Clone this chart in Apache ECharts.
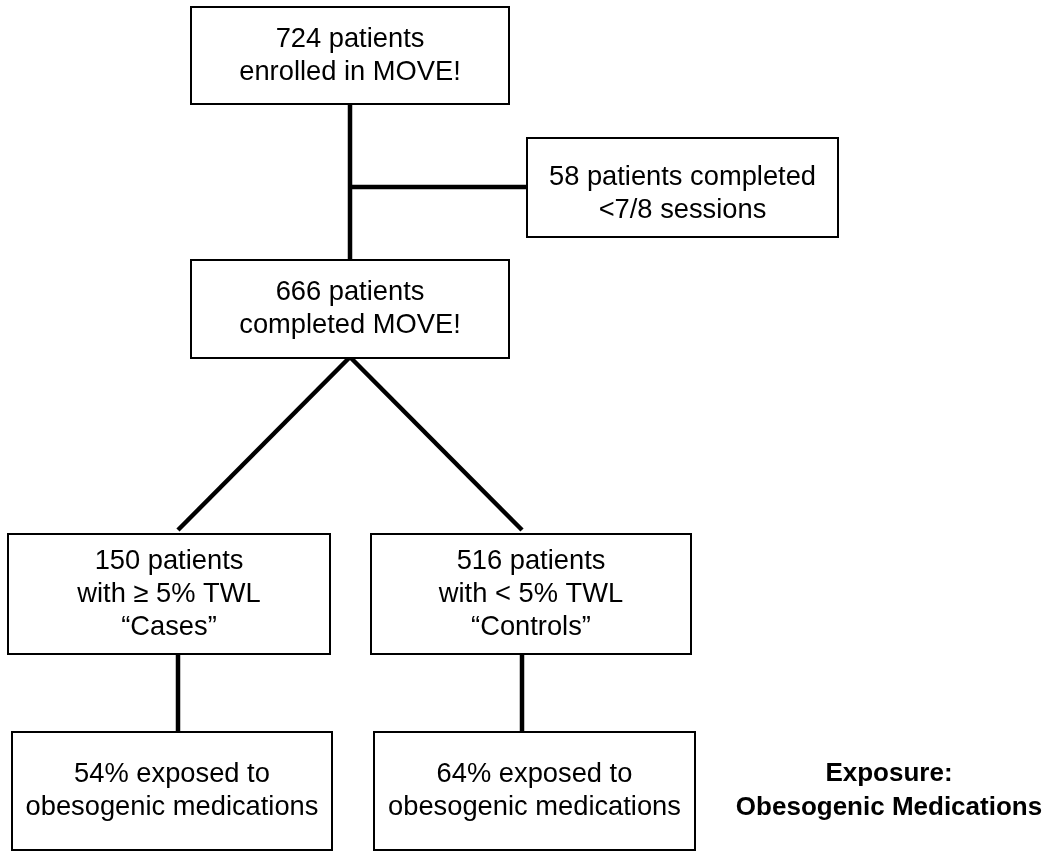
<!DOCTYPE html>
<html><head><meta charset="utf-8">
<script src="https://cdn.jsdelivr.net/npm/echarts@6/dist/echarts.min.js"></script>
<style>html,body{margin:0;padding:0;background:#fff}#c{width:1056px;height:852px}</style>
</head><body><div id="c"></div>
<script>
// ---- content ----
const boxIds = ['enrolled', 'excluded', 'completed', 'cases', 'controls', 'casesExp', 'controlsExp'];
const boxLabels = [
  '724 patients\nenrolled in MOVE!',
  '58 patients completed\n<7/8 sessions',
  '666 patients\ncompleted MOVE!',
  '150 patients\nwith \u2265 5% TWL\n\u201CCases\u201D',
  '516 patients\nwith < 5% TWL\n\u201CControls\u201D',
  '54% exposed to\nobesogenic medications',
  '64% exposed to\nobesogenic medications'
];
const sideNote = 'Exposure:\nObesogenic Medications';

// ---- layout (in the hidden axes' pixel-like units) ----
const boxLayout = {
  enrolled:    [191, 7, 509, 104],
  excluded:    [527, 138, 838, 237],
  completed:   [191, 260, 509, 358],
  cases:       [8, 534, 330, 654],
  controls:    [371, 534, 691, 654],
  casesExp:    [12, 732, 332, 850],
  controlsExp: [374, 732, 695, 850]
};
const textShift = { excluded: 6 };
const connectorLayout = [
  [350, 104, 350, 260],
  [350, 187, 527, 187],
  [350, 357, 178, 530],
  [350, 357, 522, 530],
  [178, 654, 178, 732],
  [522, 654, 522, 732]
];
const sideNoteAt = [889, 791];

const FONT = '"Liberation Sans", Arial, Helvetica, sans-serif';
const chart = echarts.init(document.getElementById('c'));

chart.setOption({
  animation: false,
  backgroundColor: '#fff',
  grid: { left: 0, right: 0, top: 0, bottom: 0 },
  xAxis: { type: 'value', min: 0, max: 1056, show: false },
  yAxis: { type: 'value', min: 0, max: 852, inverse: true, show: false },
  series: [
    {
      type: 'custom',
      coordinateSystem: 'cartesian2d',
      z: 1,
      data: connectorLayout,
      renderItem: function (params, api) {
        const a = api.coord([api.value(0), api.value(1)]);
        const b = api.coord([api.value(2), api.value(3)]);
        return {
          type: 'line',
          shape: { x1: a[0], y1: a[1], x2: b[0], y2: b[1] },
          style: { stroke: '#000', lineWidth: 4.5 }
        };
      }
    },
    {
      type: 'custom',
      coordinateSystem: 'cartesian2d',
      z: 2,
      data: boxIds.map(function (id, i) { return boxLayout[id].concat([i]); }),
      renderItem: function (params, api) {
        const p0 = api.coord([api.value(0), api.value(1)]);
        const p1 = api.coord([api.value(2), api.value(3)]);
        const idx = api.value(4);
        const id = boxIds[idx];
        return {
          type: 'rect',
          shape: { x: p0[0], y: p0[1], width: p1[0] - p0[0], height: p1[1] - p0[1] },
          style: { fill: '#fff', stroke: '#000', lineWidth: 2 },
          textContent: {
            style: {
              text: boxLabels[idx],
              fill: '#000',
              fontSize: 27.3,
              fontFamily: FONT,
              lineHeight: 33,
              align: 'center'
            }
          },
          textConfig: { position: 'inside', offset: [0, textShift[id] || 0] }
        };
      }
    },
    {
      type: 'custom',
      coordinateSystem: 'cartesian2d',
      z: 3,
      data: [sideNoteAt],
      renderItem: function (params, api) {
        const p = api.coord([api.value(0), api.value(1)]);
        return {
          type: 'text',
          x: p[0], y: p[1],
          style: {
            text: sideNote,
            fill: '#000',
            fontSize: 26,
            fontWeight: 'bold',
            fontFamily: FONT,
            lineHeight: 34,
            align: 'center',
            verticalAlign: 'middle'
          }
        };
      }
    }
  ]
});
</script>
</body></html>
